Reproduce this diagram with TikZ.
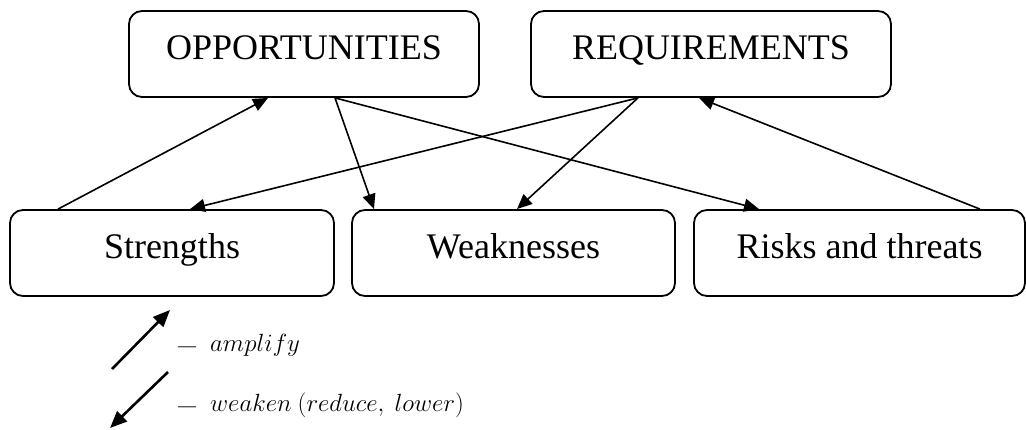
\documentclass[tikz,border=0pt]{standalone}
\usepackage{fontspec}
\setmainfont{Liberation Serif}
\usetikzlibrary{arrows.meta}
\begin{document}
\begin{tikzpicture}[x=1pt,y=-1pt,
  box/.style={draw,line width=1.8pt,rounded corners=13pt,inner sep=0pt,
    font=\fontsize{36}{40}\selectfont,text height=30pt,text depth=18pt,
    minimum height=86pt},
  link/.style={line width=1.6pt,-{Triangle[length=15pt,width=13pt]}},
  legarrow/.style={line width=2.6pt,-{Triangle[length=17pt,width=14pt]}},
  legtext/.style={anchor=west,inner sep=0pt,font=\fontsize{24}{28}\selectfont}]
\useasboundingbox (0,0) rectangle (1026,430);
\node[box,minimum width=350pt] (opp) at (304,54) {OPPORTUNITIES};
\node[box,minimum width=360pt] (req) at (711,54) {REQUIREMENTS};
\node[box,minimum width=324pt] (str) at (172,253) {Strengths};
\node[box,minimum width=323pt] (weak) at (513.5,253) {Weaknesses};
\node[box,minimum width=331pt] (risk) at (859.5,253) {Risks and threats};
\draw[link] ([xshift=-114pt]str.north) -- ([xshift=-36pt]opp.south);
\draw[link] ([xshift=31pt]opp.south) -- ([xshift=-139.5pt]weak.north);
\draw[link] ([xshift=31pt]opp.south) -- ([xshift=-100.5pt]risk.north);
\draw[link] ([xshift=-73pt]req.south) -- ([xshift=18pt]str.north);
\draw[link] ([xshift=-73pt]req.south) -- ([xshift=3.5pt]weak.north);
\draw[link] ([xshift=120.5pt]risk.north) -- ([xshift=-12pt]req.south);
\coordinate (a1) at (112,369);
\coordinate (a2) at (170,310);
\coordinate (w1) at (168,372);
\coordinate (w2) at (110,428);
\draw[legarrow] (a1) -- (a2);
\draw[legarrow] (w1) -- (w2);
\node[legtext] (amp) at (178,345) {{\fontsize{18}{20}\selectfont ---}\hspace{14pt}$amplify$};
\node[legtext] (wea) at (178,405) {{\fontsize{18}{20}\selectfont ---}\hspace{14pt}$weaken\ (reduce,\ lower)$};
\end{tikzpicture}
\end{document}
